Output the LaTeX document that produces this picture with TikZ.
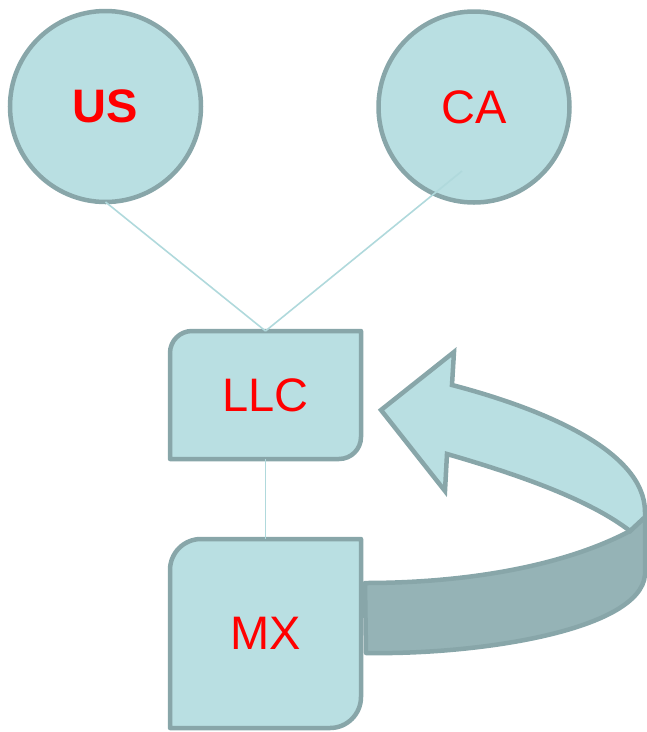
\documentclass[tikz,border=0pt]{standalone}
\usepackage{fontspec}
\setmainfont{Liberation Sans}
\usetikzlibrary{calc}
\pgfdeclarelayer{background}
\pgfsetlayers{background,main}

\definecolor{shapefill}{HTML}{B9DFE2}
\definecolor{shapeline}{HTML}{88A6A9}
\definecolor{bandfill}{HTML}{95B3B6}
\definecolor{linkline}{HTML}{B0D9DC}

\tikzset{
  labelfont/.style={text=red, font=\fontsize{47}{47}\selectfont},
  country/.style={circle, draw=shapeline, fill=shapefill, line width=4.5pt,
    minimum size=191pt, inner sep=0pt, outer sep=0pt, labelfont},
  entity/.style={rectangle, inner sep=0pt, outer sep=0pt, labelfont},
  boxline/.style={draw=shapeline, fill=shapefill, line width=4.5pt, line join=round},
  link/.style={draw=linkline, line width=1.6pt},
  ribbon/.style={draw=shapeline, fill=shapefill, line width=4.5pt, line join=miter},
  band/.style={draw=shapeline, fill=bandfill, line width=4.5pt, line join=round}
}

% box with rounded top-left and bottom-right corners around node #1, radius #2
\newcommand\tabbox[2]{%
  \draw[boxline] (#1.south west) -- ($(#1.north west)+(0,#2)$)
    .. controls ($(#1.north west)+(0,0.4477*#2)$) and ($(#1.north west)+(0.4477*#2,0)$)
    .. ($(#1.north west)+(#2,0)$)
    -- (#1.north east) -- ($(#1.south east)+(0,-#2)$)
    .. controls ($(#1.south east)+(0,-0.4477*#2)$) and ($(#1.south east)+(-0.4477*#2,0)$)
    .. ($(#1.south east)+(-#2,0)$) -- cycle;}

\begin{document}
\begin{tikzpicture}[x=1pt, y=-1pt]
  \useasboundingbox (0,0) rectangle (647,732);

  % countries
  \node[country, font=\fontsize{47}{47}\selectfont\bfseries] (US) at (105.5,106.5) {US};
  \node[country] (CA) at (474,107) {CA};

  % entities
  \node[entity, minimum width=191pt, minimum height=128pt] (LLC) at (265.5,395) {LLC};
  \node[entity, minimum width=191pt, minimum height=189pt] (MX) at (265.5,633.5) {MX};

  \begin{pgfonlayer}{background}
    % front wall of the curved arrow
    \draw[band] (630,531) .. controls (560,568) and (460,583) .. (365,583)
      -- (366,653) .. controls (480,655) and (640,630) .. (645,575)
      -- (645,517) -- cycle;
    % top face and head of the curved arrow
    \draw[ribbon] (381,410) -- (454,352) -- (452,385)
      .. controls (540,408) and (645,450) .. (645,512)
      -- (645,517) -- (630,531)
      .. controls (590,500) and (520,475) .. (447,454)
      -- (445,491) -- cycle;
    \tabbox{LLC}{22}
    \tabbox{MX}{31}
  \end{pgfonlayer}

  % ownership links
  \coordinate (CAfoot) at ($(CA.center)+(-12,64)$);
  \draw[link] (US.south) -- (LLC.north);
  \draw[link] (CAfoot) -- (LLC.north);
  \draw[link] (LLC.south) -- (MX.north);
\end{tikzpicture}
\end{document}
